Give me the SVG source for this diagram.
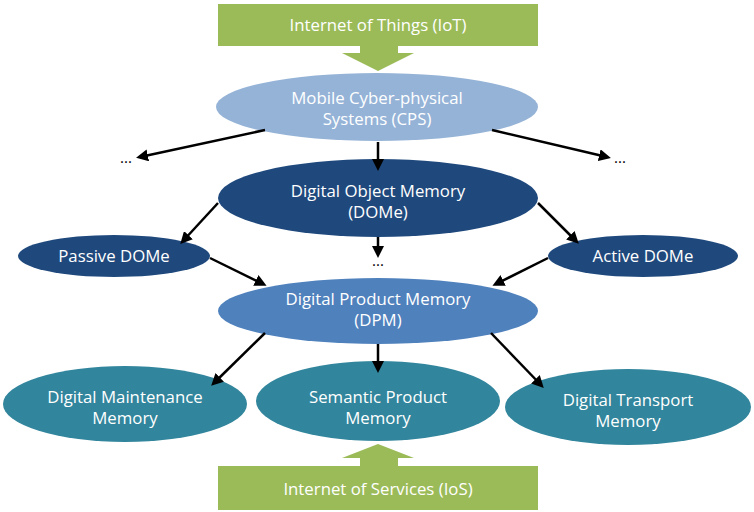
<svg xmlns="http://www.w3.org/2000/svg" width="754" height="512" viewBox="0 0 754 512">
<style>
.t{font-family:"Open Sans","Liberation Sans",sans-serif;font-size:16.8px;fill:#fff;text-anchor:middle}
.d{font-family:"Open Sans","Liberation Sans",sans-serif;font-size:15px;fill:#000;text-anchor:middle}
.c{stroke:#000;stroke-width:2.5;fill:none;marker-end:url(#ah)}
.g{fill:#9bbb59}
.cps{fill:#95b3d7}
.dome{fill:#1f497d}
.dpm{fill:#4f81bd}
.teal{fill:#31859c}
</style>
<defs>
<marker id="ah" markerWidth="12" markerHeight="12" refX="8" refY="6" orient="auto" markerUnits="userSpaceOnUse" viewBox="0 0 12 12">
<path d="M0,0 L12,6 L0,12 z" fill="#000"/>
</marker>
</defs>
<rect width="754" height="512" fill="#fff"/>
<g id="iot">
<rect class="g" x="218" y="4" width="320" height="42"/>
<path class="g" d="M360,45 H398 V53 H414 L378,71 L342,53 H360 z"/>
<text class="t" x="378" y="31">Internet of Things (IoT)</text>
</g>
<g id="cps">
<ellipse class="cps" cx="377" cy="107" rx="161" ry="34"/>
<text class="t" x="377" y="104">Mobile Cyber-physical</text>
<text class="t" x="377" y="125">Systems (CPS)</text>
</g>
<g id="dome">
<ellipse class="dome" cx="378" cy="198" rx="160" ry="39"/>
<text class="t" x="378" y="197">Digital Object Memory</text>
<text class="t" x="378" y="218">(DOMe)</text>
</g>
<g id="passive">
<ellipse class="dome" cx="114" cy="256" rx="96" ry="21"/>
<text class="t" x="114" y="262">Passive DOMe</text>
</g>
<g id="active">
<ellipse class="dome" cx="643" cy="256" rx="95" ry="21"/>
<text class="t" x="643" y="262">Active DOMe</text>
</g>
<g id="dpm">
<ellipse class="dpm" cx="378" cy="311" rx="160" ry="33"/>
<text class="t" x="378" y="305">Digital Product Memory</text>
<text class="t" x="378" y="326">(DPM)</text>
</g>
<g id="maint">
<ellipse class="teal" cx="125" cy="404" rx="122" ry="38"/>
<text class="t" x="125" y="403">Digital Maintenance</text>
<text class="t" x="125" y="424">Memory</text>
</g>
<g id="semantic">
<ellipse class="teal" cx="378" cy="401" rx="122" ry="40"/>
<text class="t" x="378" y="403">Semantic Product</text>
<text class="t" x="378" y="424">Memory</text>
</g>
<g id="transport">
<ellipse class="teal" cx="628" cy="407" rx="123" ry="38"/>
<text class="t" x="628" y="406">Digital Transport</text>
<text class="t" x="628" y="427">Memory</text>
</g>
<g id="ios">
<rect class="g" x="218" y="466" width="320" height="44"/>
<path class="g" d="M360,467 H398 V458 H414 L378,444 L342,458 H360 z"/>
<text class="t" x="378" y="495">Internet of Services (IoS)</text>
</g>
<g id="dots">
<text class="d" x="126" y="163">...</text>
<text class="d" x="620" y="163">...</text>
<text class="d" x="378" y="266">...</text>
</g>
<g id="connectors">
<line class="c" x1="265" y1="130" x2="140" y2="157"/>
<line class="c" x1="492" y1="130" x2="607" y2="157"/>
<line class="c" x1="378" y1="142" x2="378" y2="167"/>
<line class="c" x1="218" y1="203" x2="183" y2="241"/>
<line class="c" x1="538" y1="203" x2="576" y2="241"/>
<line class="c" x1="378" y1="237" x2="378" y2="254"/>
<line class="c" x1="210" y1="258" x2="263" y2="284"/>
<line class="c" x1="548" y1="258" x2="496" y2="284"/>
<line class="c" x1="265" y1="333" x2="214" y2="383"/>
<line class="c" x1="378" y1="344" x2="378" y2="369"/>
<line class="c" x1="491" y1="333" x2="541" y2="385"/>
</g>
</svg>
